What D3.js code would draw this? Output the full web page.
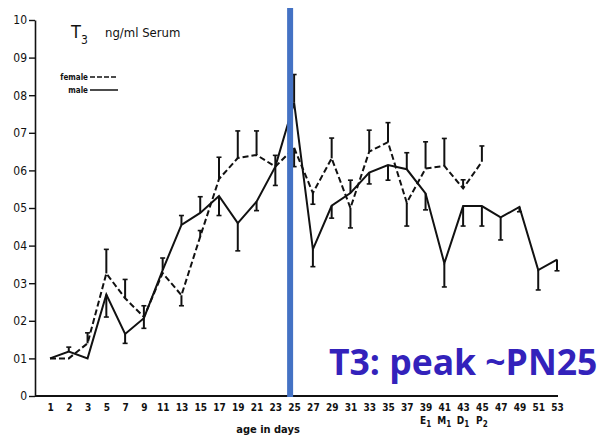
<!DOCTYPE html>
<html lang="en">
<head>
<meta charset="UTF-8">
<title>T3 serum</title>
<script src="https://d3js.org/d3.v7.min.js"></script>
<style>
    body { margin: 0; background: #fff; }
    svg { display: block; }
    .old { font-family: "Liberation Sans Narrow", "DejaVu Sans Condensed", "Liberation Sans", sans-serif; fill: #111; }
</style>
</head>
<body>
<div id="chart"></div>
<script>
    // age labels on x axis (evenly spaced, as in the figure)
    const days = ["1","2","3","5","7","9","11","13","15","17","19","21","23","25","27",
                  "29","31","33","35","37","39","41","43","45","47","49","51","53"];
    const yTicks = [0, 0.1, 0.2, 0.3, 0.4, 0.5, 0.6, 0.7, 0.8, 0.9, 1.0];
    const yTickLabels = ["0","01","02","03","04","05","06","07","08","09","10"];

    // T3 ng/ml, male (solid)
    const male = [0.10, 0.118, 0.10, 0.27, 0.165, 0.207, 0.335, 0.455, 0.487, 0.532, 0.46, 0.517, 0.61, 0.78,
                  0.39, 0.506, 0.54, 0.594, 0.614, 0.603, 0.539, 0.353, 0.505, 0.505, 0.475, 0.503, 0.335, 0.363];
    // end of the error bar for each male point
    const maleErr = [0.10, 0.13, 0.10, 0.21, 0.14, 0.18, 0.367, 0.48, 0.53, 0.48, 0.386, 0.493, 0.56, 0.855,
                     0.344, 0.473, 0.574, 0.564, 0.574, 0.647, 0.495, 0.29, 0.452, 0.452, 0.415, 0.49, 0.282, 0.333];

    // female (dashed), stops at day 45
    const female = [0.10, 0.10, 0.14, 0.326, 0.26, 0.21, 0.327, 0.268, 0.424, 0.577, 0.633, 0.641, 0.61, 0.66,
                    0.54, 0.632, 0.50, 0.65, 0.675, 0.514, 0.605, 0.612, 0.552, 0.623];
    const femaleErr = [0.10, 0.10, 0.168, 0.39, 0.31, 0.24, 0.327, 0.24, 0.44, 0.635, 0.705, 0.705, 0.64, 0.61,
                       0.51, 0.686, 0.447, 0.707, 0.727, 0.452, 0.676, 0.685, 0.575, 0.665];

    const phaseDays = ["39","41","43","45"];
    const phaseLabels = [["E","1"],["M","1"],["D","1"],["P","2"]];

    const width = 607, height = 438;

    const svg = d3.select("#chart").append("svg")
        .attr("width", width)
        .attr("height", height);

    const x = d3.scalePoint().domain(days).range([50, 557]);
    const y = d3.scaleLinear().domain([0, 1]).range([396, 20]);

    // y axis
    const yAxis = svg.append("g")
        .attr("transform", "translate(35,0)")
        .call(d3.axisLeft(y).tickValues(yTicks).tickSize(6).tickSizeOuter(0)
            .tickFormat((d, i) => yTickLabels[i]));
    yAxis.select(".domain").attr("stroke", "#111").attr("stroke-width", 1.6);
    yAxis.selectAll(".tick line").attr("stroke", "#111").attr("stroke-width", 1.4);
    yAxis.selectAll(".tick text")
        .attr("class", "old")
        .attr("x", -8)
        .style("font-size", "12px");

    // x axis (no tick marks)
    const xAxis = svg.append("g")
        .attr("transform", "translate(0,396)")
        .call(d3.axisBottom(x).tickSize(0).tickPadding(8));
    xAxis.select(".domain").attr("d", "M35,0H558").attr("stroke", "#111").attr("stroke-width", 2);
    xAxis.selectAll(".tick text")
        .attr("class", "old")
        .style("font-size", "10px")
        .style("font-weight", "bold");

    // phase labels under 39..45
    phaseDays.forEach((d, i) => {
        const t = svg.append("text").attr("class", "old")
            .attr("x", x(d)).attr("y", 424)
            .attr("text-anchor", "middle")
            .style("font-size", "10px").style("font-weight", "bold");
        t.append("tspan").text(phaseLabels[i][0]);
        t.append("tspan").attr("dy", 3).style("font-size", "8px").text(phaseLabels[i][1]);
    });

    svg.append("text").attr("class", "old")
        .attr("x", 268).attr("y", 433)
        .attr("text-anchor", "middle")
        .style("font-size", "11px")
        .style("font-weight", "bold")
        .text("age in days");

    // title
    const title = svg.append("text").attr("class", "old").attr("x", 71).attr("y", 38);
    title.append("tspan").style("font-size", "18px").text("T");
    title.append("tspan").attr("dy", 6).style("font-size", "12px").text("3");
    svg.append("text").attr("class", "old")
        .attr("x", 105).attr("y", 37)
        .style("font-size", "13px")
        .text("ng/ml  Serum");

    // legend
    const legend = [["female", "5,2", 77], ["male", null, 90]];
    legend.forEach(l => {
        svg.append("text").attr("class", "old")
            .attr("x", 88).attr("y", l[2] + 2.5)
            .attr("text-anchor", "end")
            .style("font-size", "8px").style("font-weight", "bold")
            .text(l[0]);
        svg.append("line")
            .attr("x1", 90).attr("x2", 118).attr("y1", l[2]).attr("y2", l[2])
            .attr("stroke", "#111").attr("stroke-width", 1.5)
            .attr("stroke-dasharray", l[1]);
    });

    function drawSeries(vals, errs, dash) {
        const pts = vals.map((v, i) => ({ day: days[i], v: v, e: errs[i] }));
        const g = svg.append("g");
        g.selectAll("line.err")
            .data(pts.filter(p => p.e !== p.v))
            .enter().append("line")
            .attr("x1", p => x(p.day)).attr("x2", p => x(p.day))
            .attr("y1", p => y(p.v)).attr("y2", p => y(p.e))
            .attr("stroke", "#111").attr("stroke-width", 2);
        g.selectAll("line.cap")
            .data(pts.filter(p => p.e !== p.v))
            .enter().append("line")
            .attr("x1", p => x(p.day) - 2.5).attr("x2", p => x(p.day) + 2.5)
            .attr("y1", p => y(p.e)).attr("y2", p => y(p.e))
            .attr("stroke", "#111").attr("stroke-width", 1.6);
        g.append("path")
            .datum(pts)
            .attr("fill", "none")
            .attr("stroke", "#111")
            .attr("stroke-width", 2)
            .attr("stroke-dasharray", dash)
            .attr("d", d3.line().x(p => x(p.day)).y(p => y(p.v)));
    }

    drawSeries(female, femaleErr, "6,3");
    drawSeries(male, maleErr, null);

    // highlight line at PN25
    svg.append("line")
        .attr("x1", x("25") - 4).attr("x2", x("25") - 4)
        .attr("y1", 8).attr("y2", 397)
        .attr("stroke", "#4472c4").attr("stroke-width", 6);

    svg.append("text")
        .attr("x", 329).attr("y", 375)
        .style("font-family", "'Open Sans', 'Noto Sans', sans-serif")
        .style("font-size", "35.5px")
        .style("font-weight", "bold")
        .style("fill", "#3322bb")
        .text("T3: peak ~PN25");
</script>
</body>
</html>
